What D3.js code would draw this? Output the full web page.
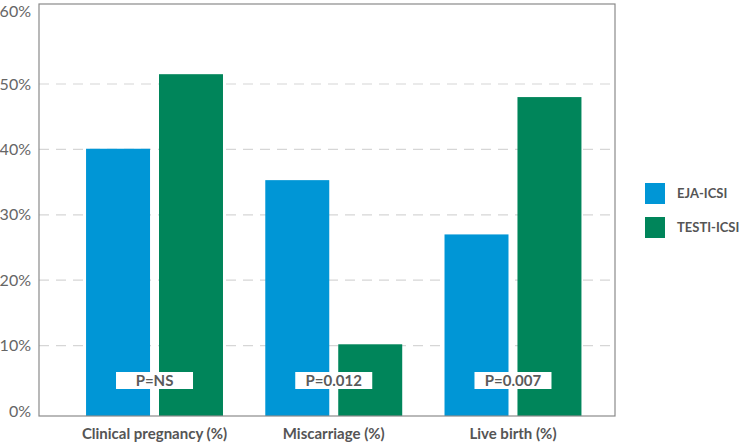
<!DOCTYPE html>
<html>
<head>
<meta charset="utf-8">
<script src="https://cdn.jsdelivr.net/npm/d3@7"></script>
<style>
  html, body { margin: 0; padding: 0; background: #fff; }
  svg { display: block; font-family: Lato, "Open Sans", sans-serif; }
</style>
</head>
<body>
<svg id="chart" width="742" height="442"></svg>
<script>
const categories = ["Clinical pregnancy (%)", "Miscarriage (%)", "Live birth (%)"];
const series = ["EJA-ICSI", "TESTI-ICSI"];
const ejaValues = [40.1, 35.3, 27.0];
const testiValues = [51.5, 10.2, 48.0];
const pLabels = ["P=NS", "P=0.012", "P=0.007"];
const tickValues = [0, 10, 20, 30, 40, 50, 60];
const colors = ["#0096d6", "#00855a"];

const svg = d3.select("#chart");
const frame = { left: 39, right: 615, top: 4, bottom: 416 };

const y = d3.scaleLinear().domain([0, 60]).range([411, 18.6]);
const x0 = d3.scaleBand().domain(categories).range([64.9, 602.6])
  .paddingInner(0.236).paddingOuter(0.118);
const x1 = d3.scaleBand().domain(series).range([0, x0.bandwidth()]).paddingInner(0.123);
const color = d3.scaleOrdinal().domain(series).range(colors);

// gridlines
svg.append("g").selectAll("line")
  .data(tickValues.filter(v => v > 0 && v < 60))
  .join("line")
  .attr("x1", frame.left).attr("x2", frame.right)
  .attr("y1", d => y(d)).attr("y2", d => y(d))
  .attr("stroke", "#d6d6d6").attr("stroke-width", 1.2)
  .attr("stroke-dasharray", "10,7");

// bars
const rows = categories.map((c, i) => ({ cat: c, vals: [ejaValues[i], testiValues[i]] }));
const groups = svg.append("g").selectAll("g")
  .data(rows).join("g")
  .attr("transform", d => `translate(${x0(d.cat)},0)`);
groups.selectAll("rect")
  .data(d => series.map((s, j) => ({ s, v: d.vals[j] })))
  .join("rect")
  .attr("x", d => x1(d.s))
  .attr("width", x1.bandwidth())
  .attr("y", d => y(d.v))
  .attr("height", d => frame.bottom - y(d.v))
  .attr("fill", d => color(d.s));

// frame
svg.append("rect")
  .attr("x", frame.left).attr("y", frame.top)
  .attr("width", frame.right - frame.left).attr("height", frame.bottom - frame.top)
  .attr("fill", "none").attr("stroke", "#8a8a8a").attr("stroke-width", 1.2);

// y axis labels
const yMax = y.domain()[1];
svg.append("g").selectAll("text")
  .data(tickValues).join("text")
  .attr("x", 31)
  .attr("y", d => d === yMax ? frame.top + 7 : y(d))
  .attr("dy", "0.35em")
  .attr("text-anchor", "end")
  .attr("font-size", 16)
  .attr("fill", "#666")
  .text(d => d + "%");

// category labels
svg.append("g").selectAll("text")
  .data(categories).join("text")
  .attr("x", d => x0(d) + x0.bandwidth() / 2)
  .attr("y", 434)
  .attr("dy", "0.35em")
  .attr("text-anchor", "middle")
  .attr("font-size", 15)
  .attr("font-weight", "bold")
  .attr("fill", "#555")
  .text(d => d);

// P value boxes
const pg = svg.append("g").selectAll("g")
  .data(categories).join("g")
  .attr("transform", d => `translate(${x0(d) + x0.bandwidth() / 2},380.5)`);
pg.append("rect")
  .attr("x", -38.5).attr("y", -8.5).attr("width", 77).attr("height", 17)
  .attr("fill", "#fff");
pg.append("text")
  .attr("text-anchor", "middle").attr("dy", "0.36em")
  .attr("font-size", 15).attr("font-weight", "bold").attr("fill", "#5a5a5a")
  .text((d, i) => pLabels[i]);

// legend
const lg = svg.append("g").selectAll("g")
  .data(series).join("g")
  .attr("transform", (d, i) => `translate(645,${183 + i * 34})`);
lg.append("rect").attr("width", 20).attr("height", 21).attr("fill", d => color(d));
lg.append("text")
  .attr("x", 32).attr("y", 10.5).attr("dy", "0.35em")
  .attr("font-size", 13).attr("font-weight", "bold").attr("fill", "#555")
  .text(d => d);
</script>
</body>
</html>
